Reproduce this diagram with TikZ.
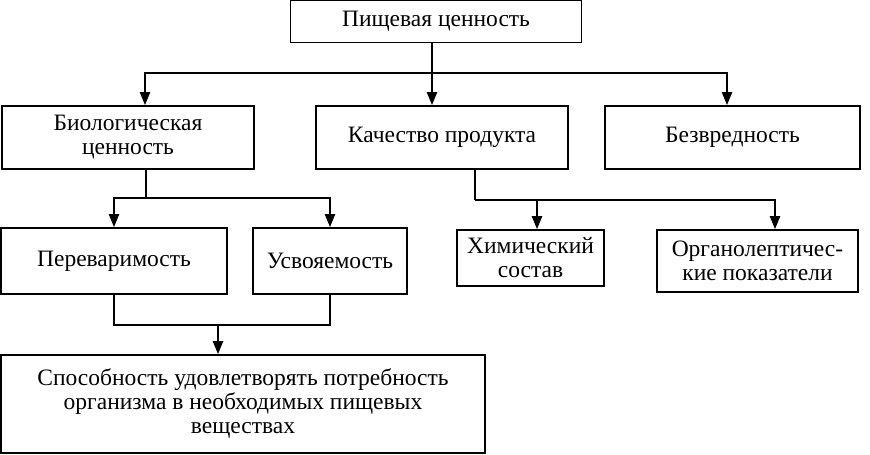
\documentclass[tikz,border=0pt]{standalone}
\usepackage{fontspec}
\setmainfont{Liberation Serif}
\usetikzlibrary{arrows.meta}
\begin{document}
\begin{tikzpicture}[x=1pt,y=-1pt,
	box/.style={draw,line width=1.6pt,align=center,inner sep=0pt,
		font=\fontsize{23.5}{24}\selectfont},
	arr/.style={-{Triangle[length=13pt,width=10pt]},line width=2pt},
	ln/.style={line width=2pt}]
	\useasboundingbox (0,0) rectangle (870,455);
	% top level
	\node[box,minimum width=291pt,minimum height=42pt] (food) at (436,21.5) {Пищевая ценность};
	\node[box,minimum width=252pt,minimum height=63pt] (bio) at (128,137.5) {Биологическая\\ценность};
	\node[box,minimum width=252pt,minimum height=63pt] (quality) at (442,137.5) {Качество продукта};
	\node[box,minimum width=255pt,minimum height=63pt] (harmless) at (732.5,137.5) {Безвредность};
	% second level
	\node[box,minimum width=226pt,minimum height=66pt] (digest) at (114,261) {Переваримость};
	\node[box,minimum width=154pt,minimum height=66pt] (assim) at (330,261) {Усвояемость};
	\node[box,minimum width=147pt,minimum height=56pt] (chem) at (530.5,258) {Химический\\состав};
	\node[box,minimum width=201pt,minimum height=62pt] (organ) at (757.5,261) {Органолептичес-\\кие показатели};
	\node[box,minimum width=484pt,minimum height=98pt] (ability) at (243,404) {Способность удовлетворять потребность\\организма в необходимых пищевых\\веществах};
	% connectors
	\coordinate (t1) at (145,73);
	\coordinate (t2) at (727,73);
	\draw[arr] (food.south -| 432,0) -- (quality.north -| 432,0);
	\draw[arr] (t1 -| 432,0) -| (bio.north -| t1);
	\draw[arr] (t1 -| 432,0) -| (harmless.north -| t2);
	\coordinate (b1) at (146,198);
	\draw[ln] (bio.south -| b1) -- (b1);
	\draw[arr] (b1) -| (digest.north);
	\draw[arr] (b1) -| (assim.north);
	\coordinate (q1) at (475,200);
	\draw[ln] (quality.south -| q1) -- (q1);
	\draw[arr] (q1) -| (chem.north -| 537,0);
	\draw[arr] (q1) -| (organ.north -| 775,0);
	\coordinate (j1) at (218,325);
	\draw[ln] (digest.south) |- (j1) -| (assim.south);
	\draw[arr] (j1) -- (ability.north -| j1);
\end{tikzpicture}
\end{document}
